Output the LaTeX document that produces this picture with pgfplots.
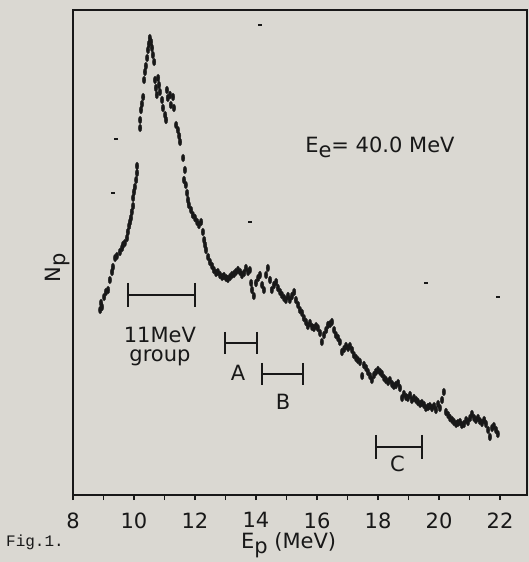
\documentclass[border=0pt]{standalone}
\usepackage{pgfplots}
\pgfplotsset{compat=1.18}
\usepackage{pgfplotstable}
\usepackage{fontspec}
\setmainfont{DejaVu Sans}
\newfontfamily\courier{Liberation Mono}
\definecolor{bg}{HTML}{DAD8D2}
\definecolor{ink}{HTML}{181818}

\pgfplotstableread{
x y
8.89 185
8.92 192
8.95 188
9.02 198
9.08 203
9.15 205
9.21 215
9.28 223
9.31 228
9.38 237
9.44 239
9.54 243
9.61 247
9.64 250
9.70 252
9.77 257
9.80 263
9.84 269
9.87 273
9.90 277
9.93 283
9.97 289
9.97 297
10.00 303
10.03 308
10.07 315
10.10 322
10.10 329
10.20 367
10.20 375
10.23 385
10.26 391
10.30 398
10.33 415
10.36 423
10.39 429
10.43 437
10.46 445
10.49 451
10.52 457
10.56 453
10.59 447
10.62 440
10.66 433
10.69 415
10.72 407
10.75 400
10.79 417
10.82 410
10.85 403
10.92 395
10.95 387
11.02 380
11.05 375
11.08 405
11.11 397
11.18 400
11.21 390
11.28 398
11.31 387
11.38 370
11.44 365
11.48 359
11.51 353
11.61 337
11.64 315
11.67 325
11.70 310
11.74 302
11.77 295
11.80 290
11.87 285
11.93 280
12.00 277
12.07 273
12.13 270
12.20 273
12.26 263
12.30 255
12.33 250
12.36 245
12.43 238
12.49 233
12.56 229
12.62 225
12.69 222
12.75 223
12.82 220
12.89 218
12.95 219
13.02 217
13.08 216
13.15 218
13.21 220
13.28 221
13.34 223
13.41 225
13.48 223
13.54 220
13.61 222
13.67 227
13.74 223
13.80 225
13.84 212
13.87 205
13.93 199
14.00 212
14.07 217
14.13 220
14.20 210
14.26 205
14.33 220
14.39 227
14.46 215
14.52 205
14.59 210
14.66 213
14.72 207
14.79 203
14.85 200
14.92 197
14.98 195
15.05 199
15.11 195
15.18 199
15.25 203
15.31 195
15.38 190
15.44 185
15.51 182
15.57 177
15.64 173
15.70 169
15.77 172
15.84 168
15.90 167
15.97 169
16.03 167
16.10 162
16.16 153
16.23 160
16.30 165
16.36 170
16.43 171
16.49 173
16.56 165
16.62 160
16.69 157
16.75 153
16.82 143
16.89 146
16.95 149
17.02 147
17.08 149
17.15 145
17.21 140
17.28 137
17.34 135
17.41 133
17.48 119
17.54 130
17.61 127
17.67 123
17.74 119
17.80 115
17.87 120
17.93 123
18.00 125
18.07 123
18.13 121
18.20 117
18.26 115
18.33 113
18.39 115
18.46 111
18.52 109
18.59 110
18.66 112
18.72 107
18.79 97
18.85 101
18.92 98
18.98 97
19.05 100
19.11 95
19.18 97
19.25 95
19.31 93
19.38 91
19.44 92
19.51 90
19.57 87
19.64 88
19.70 89
19.77 87
19.84 89
19.90 85
19.97 91
20.03 87
20.10 95
20.16 103
20.23 83
20.30 80
20.36 77
20.43 75
20.49 73
20.56 71
20.62 72
20.69 73
20.75 70
20.82 71
20.89 75
20.95 73
21.02 77
21.08 81
21.15 77
21.21 75
21.28 77
21.34 74
21.41 72
21.48 75
21.54 71
21.61 65
21.67 58
21.74 67
21.80 69
21.87 65
21.93 61
}\spectrum

\pgfplotstableread{
x y
9.41 356
9.31 302
13.80 273
14.13 470
19.57 212
21.93 198
}\stray

\begin{document}
\begin{tikzpicture}[x=1pt,y=1pt]
\path[use as bounding box, fill=bg] (-73,-67) rectangle (456,495);
\begin{axis}[
  at={(0,0)}, anchor=south west,
  width=454pt, height=485pt, scale only axis,
  xmin=8, xmax=22.885, ymin=0, ymax=485,
  axis line style={line width=2pt, ink},
  xtick={8,10,...,22}, minor xtick={9,11,...,21},
  xtick pos=bottom, ytick=\empty,
  tick align=outside, major tick length=5pt, minor tick length=5pt,
  every tick/.style={line width=1.8pt, ink},
  /pgf/number format/assume math mode=true,
  xticklabel style={font=\fontsize{21}{22}\selectfont, text=ink, yshift=-9pt},
  xlabel={E\raisebox{-5pt}{p} (MeV)},
  xlabel style={at={(rel axis cs:0.475,0)}, anchor=base, yshift=-53pt, font=\fontsize{21}{22}\selectfont, text=ink},
  ylabel={N\raisebox{-5pt}{p}},
  ylabel style={at={(axis description cs:-0.035,0.468)}, anchor=center, font=\fontsize{21}{22}\selectfont, text=ink},
  clip=false,
]
\addplot[only marks, mark=*, mark size=1.7pt, ink, mark options={yscale=2.2, draw=ink, fill=ink}] table {\spectrum};
\addplot[only marks, mark=-, mark size=2pt, ink, mark options={line width=1.5pt}] table {\stray};
% energy windows
\addplot[line width=2.3pt, ink, mark=|, mark size=12pt, mark options={line width=2.3pt}] coordinates {(9.80,200) (12.00,200)};
\addplot[line width=2.3pt, ink, mark=|, mark size=11pt, mark options={line width=2.3pt}] coordinates {(12.98,152) (14.03,152)};
\addplot[line width=2.3pt, ink, mark=|, mark size=11pt, mark options={line width=2.3pt}] coordinates {(14.20,121) (15.54,121)};
\addplot[line width=2.3pt, ink, mark=|, mark size=12pt, mark options={line width=2.3pt}] coordinates {(17.93,48) (19.44,48)};
\node[font=\fontsize{21}{22}\selectfont, text=ink] at (axis cs:10.85,160) {11MeV};
\node[font=\fontsize{21}{22}\selectfont, text=ink] at (axis cs:10.85,137) {group};
\node[font=\fontsize{21}{22}\selectfont, text=ink] at (axis cs:13.41,122) {A};
\node[font=\fontsize{21}{22}\selectfont, text=ink] at (axis cs:14.89,93) {B};
\node[font=\fontsize{21}{22}\selectfont, text=ink] at (axis cs:18.64,31) {C};
\node[font=\fontsize{21}{22}\selectfont, text=ink, anchor=west] at (axis cs:15.50,348) {E\raisebox{-5pt}{e}= 40.0 MeV};
\node[font=\courier\fontsize{16}{16}\selectfont, text=ink, anchor=base west] at (rel axis cs:-0.155,-0.107) {Fig.1.};
\end{axis}
\end{tikzpicture}
\end{document}
